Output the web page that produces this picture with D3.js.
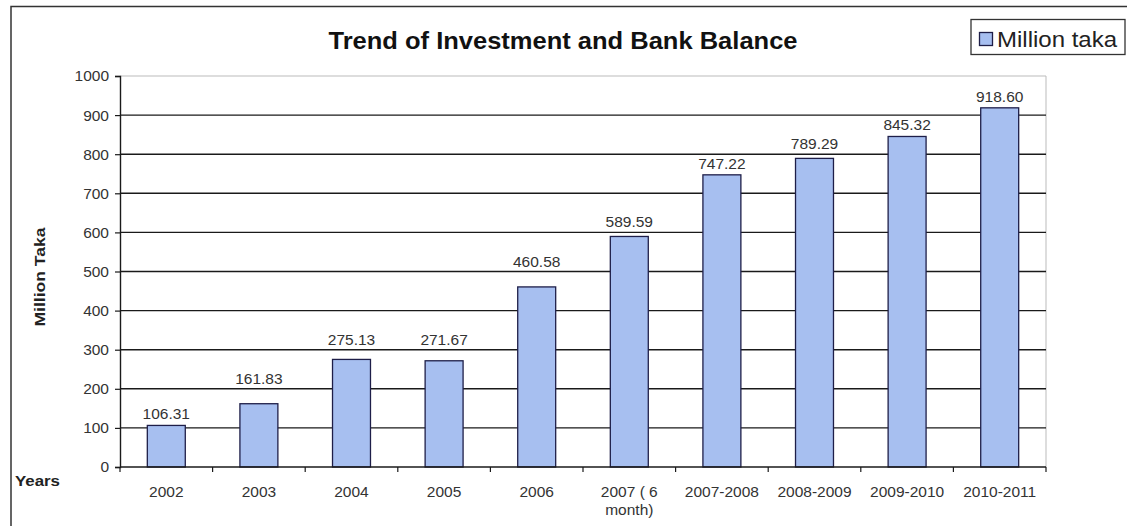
<!DOCTYPE html>
<html><head><meta charset="utf-8">
<script src="https://cdn.jsdelivr.net/npm/d3@7/dist/d3.min.js"></script>
<style>body{margin:0;background:#fff}svg{display:block}text{font-family:"Liberation Sans",Arial,sans-serif}</style>
</head><body><svg id="c" width="1127" height="526"></svg>
<script>
const categories = ["2002","2003","2004","2005","2006","2007 ( 6|month)","2007-2008","2008-2009","2009-2010","2010-2011"];
const values = [106.31,161.83,275.13,271.67,460.58,589.59,747.22,789.29,845.32,918.60];
const yTicks = [0,100,200,300,400,500,600,700,800,900,1000];
const title = "Trend of Investment and Bank Balance";
const seriesName = "Million taka";
const yTitle = "Million Taka";
const xTitle = "Years";

const svg = d3.select("#c");
const L = 120, R = 1046, T = 76, B = 467;
const x = d3.scaleBand().domain(categories).range([L, R]).paddingInner(0.59).paddingOuter(0.295);
const y = d3.scaleLinear().domain([0, 1000]).range([B, T]);
const FS = 15.5;

// frame
svg.append("path").attr("d", `M11,526 V6.5 H1127`).attr("fill","none").attr("stroke","#333").attr("stroke-width",1.5);

// plot area border (light)
svg.append("path").attr("d", `M${L},${y(1000)} H${R} V${B}`).attr("fill","none").attr("stroke","#bbb").attr("stroke-width",1);

// grid lines
const gridVals = yTicks.filter(d => d > 0 && d < 1000);
svg.append("g").selectAll("line").data(gridVals).join("line")
  .attr("x1", L).attr("x2", R).attr("y1", d => y(d)).attr("y2", d => y(d))
  .attr("stroke", "#1a1a1a").attr("stroke-width", 1.4);

// bars
svg.append("g").selectAll("rect").data(values).join("rect")
  .attr("x", (d,i) => x(categories[i]))
  .attr("width", x.bandwidth())
  .attr("y", d => y(d))
  .attr("height", d => B - y(d))
  .attr("fill", "#a7bff0").attr("stroke", "#1e1e48").attr("stroke-width", 1.3);

// data labels (lifted above a gridline they would otherwise sit on)
function labelY(v) {
  let b = y(v) - 6;
  gridVals.forEach(g => { const gy = y(g); if (gy >= b - 12 && gy <= b + 3) b = gy - 5; });
  return b;
}
svg.append("g").selectAll("text").data(values).join("text")
  .attr("x", (d,i) => x(categories[i]) + x.bandwidth()/2)
  .attr("y", d => labelY(d))
  .attr("text-anchor","middle").attr("font-size",FS).attr("fill","#333")
  .text(d => d.toFixed(2));

// y axis
const ya = svg.append("g").attr("transform", `translate(${L},0)`)
  .call(d3.axisLeft(y).tickValues(yTicks).tickFormat(d3.format("d")).tickSize(5).tickPadding(6));
ya.select(".domain").attr("stroke","#1a1a1a").attr("stroke-width",1.4);
ya.selectAll(".tick line").attr("stroke","#1a1a1a").attr("stroke-width",1.2);
ya.selectAll(".tick text").attr("font-size",FS).attr("fill","#333").attr("font-family",'"Liberation Sans",Arial,sans-serif');

// x axis
const xa = svg.append("g").attr("transform", `translate(0,${B})`);
xa.append("line").attr("x1",L).attr("x2",R).attr("stroke","#1a1a1a").attr("stroke-width",1.4);
const step = x.step();
xa.selectAll("line.tk").data(d3.range(categories.length + 1)).join("line").attr("class","tk")
  .attr("x1", i => L + i*step).attr("x2", i => L + i*step).attr("y1",0).attr("y2",5)
  .attr("stroke","#1a1a1a").attr("stroke-width",1.2);
const xl = xa.selectAll("text.xl").data(categories).join("text").attr("class","xl")
  .attr("text-anchor","middle").attr("font-size",FS).attr("fill","#333")
  .attr("x", d => x(d) + x.bandwidth()/2).attr("y", 30);
xl.each(function(d){
  const parts = d.split("|");
  const t = d3.select(this);
  parts.forEach((p,k) => t.append("tspan").attr("x", x(d) + x.bandwidth()/2).attr("dy", k ? 18 : 0).text(p));
});

// title
svg.append("text").attr("x", 563).attr("y", 49).attr("text-anchor","middle")
  .attr("font-size",24).attr("font-weight","bold").attr("fill","#111")
  .attr("textLength",469).attr("lengthAdjust","spacingAndGlyphs").text(title);

// axis titles
svg.append("text").attr("transform","translate(45,277) rotate(-90)").attr("text-anchor","middle")
  .attr("font-size",15).attr("font-weight","bold").attr("fill","#222")
  .attr("textLength",99).attr("lengthAdjust","spacingAndGlyphs").text(yTitle);
svg.append("text").attr("x",15).attr("y",486).attr("font-size",15).attr("font-weight","bold").attr("fill","#222")
  .attr("textLength",45).attr("lengthAdjust","spacingAndGlyphs").text(xTitle);

// legend
const lg = svg.append("g");
lg.append("rect").attr("x",971).attr("y",19.5).attr("width",154).attr("height",35)
  .attr("fill","#fff").attr("stroke","#333").attr("stroke-width",1.3);
lg.append("rect").attr("x",979.5).attr("y",32.5).attr("width",13).attr("height",13)
  .attr("fill","#a7bff0").attr("stroke","#1e1e48").attr("stroke-width",1.3);
lg.append("text").attr("x",997).attr("y",47).attr("font-size",22).attr("fill","#222")
  .attr("textLength",120).attr("lengthAdjust","spacingAndGlyphs").text(seriesName);
</script></body></html>
